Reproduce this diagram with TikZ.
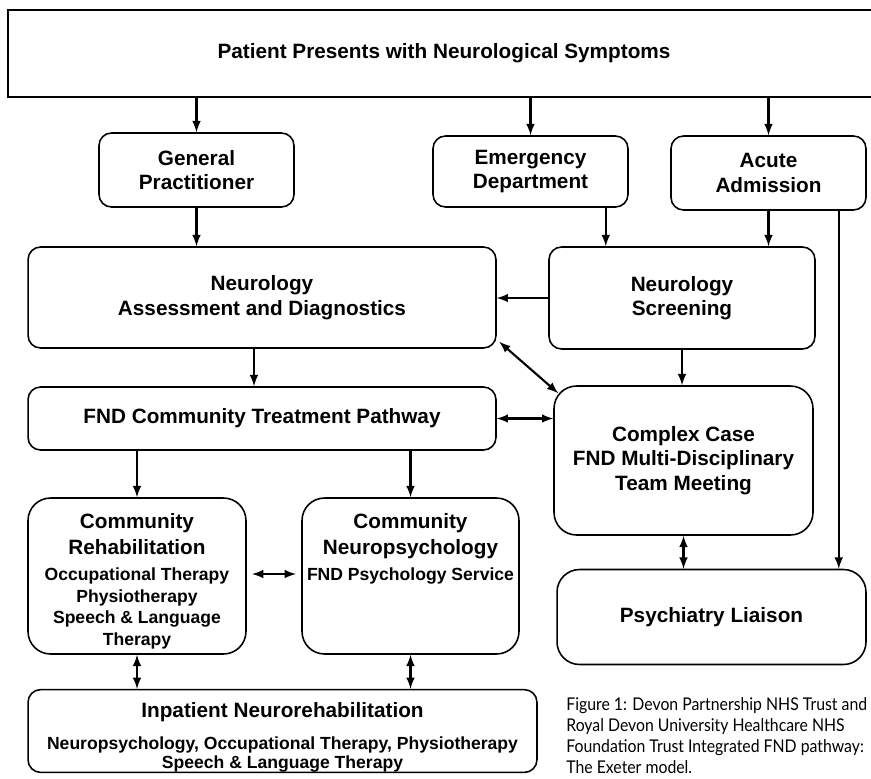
\documentclass[tikz,border=0pt]{standalone}
\usepackage{fontspec}
\setmainfont{Liberation Sans}
\newfontfamily\captionfont[FakeStretch=0.9]{Lato}
\newcommand{\subtext}{\fontsize{10}{12.2}\selectfont}

\begin{document}
\begin{tikzpicture}[>=latex, x=0.02cm, y=-0.02cm,
    box/.style={draw, line width=0.9pt, rounded corners=0.25cm, align=center,
        inner sep=2pt, font=\bfseries\fontsize{11.8}{14}\selectfont},
    bigbox/.style={box, rounded corners=0.45cm},
    link/.style={line width=1.2pt}]
    \useasboundingbox (0,0) rectangle (871,778);

    % 1. Hộp trên cùng
    \node[draw, line width=0.9pt, minimum width=17.44cm, minimum height=1.74cm,
        font=\bfseries\fontsize{11.8}{14}\selectfont] (patient) at (444,53.5)
        {Patient Presents with Neurological Symptoms};

    % 2. Các điểm tiếp nhận
    \node[box, minimum width=3.9cm, minimum height=1.48cm] (gp) at (196.5,170) {General\\Practitioner};
    \node[box, minimum width=3.9cm, minimum height=1.42cm] (ed) at (530.5,171.5) {Emergency\\Department};
    \node[box, minimum width=3.9cm, minimum height=1.48cm] (acute) at (768.5,173) {Acute\\Admission};

    % 3. Thần kinh
    \node[box, minimum width=9.36cm, minimum height=2.02cm] (assess) at (262,297.5) {Neurology\\Assessment and Diagnostics};
    \node[box, minimum width=5.32cm, minimum height=2.04cm] (screen) at (682,298) {Neurology\\Screening};

    % 4. Lộ trình cộng đồng và hội chẩn
    \node[box, minimum width=9.36cm, minimum height=1.26cm] (pathway) at (262,418.5) {FND Community Treatment Pathway};
    \node[bigbox, minimum width=5.18cm, minimum height=2.98cm] (mdt) at (683.5,460.5)
        {Complex Case\\FND Multi-Disciplinary\\Team Meeting};
    \node[bigbox, minimum width=6.18cm, minimum height=1.9cm] (liaison) at (711.5,617) {Psychiatry Liaison};

    % 5. Dịch vụ cộng đồng
    \node[bigbox, minimum width=4.36cm, minimum height=3.12cm] (rehab) at (137,576)
        {\parbox[c][2.52cm][t]{4.2cm}{\centering\baselineskip=14.8pt Community\\Rehabilitation\par\vspace{3pt}
        \subtext Occupational Therapy\\Physiotherapy\\Speech \& Language\\Therapy}};
    \node[bigbox, minimum width=4.34cm, minimum height=3.12cm] (neuropsy) at (410.5,576)
        {\parbox[c][2.52cm][t]{4.2cm}{\centering\baselineskip=14.8pt Community\\Neuropsychology\par\vspace{3pt}
        \subtext FND Psychology Service}};

    % 6. Nội trú
    \node[box, inner sep=0pt, minimum width=10.18cm, minimum height=1.58cm] (inpatient) at (282.5,731)
        {\parbox[c][1.58cm][b]{10cm}{\centering Inpatient Neurorehabilitation\par\vspace{7pt}
        \fontsize{10}{11}\selectfont Neuropsychology, Occupational Therapy, Physiotherapy\\Speech \& Language Therapy}};

    % 7. Chú thích
    \node[anchor=north west, align=left, inner sep=0pt,
        font=\captionfont\fontsize{10}{12}\selectfont] (caption) at (566,697)
        {Figure 1: Devon Partnership NHS Trust and\\Royal Devon University Healthcare NHS\\
        Foundation Trust Integrated FND pathway:\\The Exeter model.};

    % 8. Mũi tên
    \draw[->, link] (patient.south -| gp) -- (gp.north);
    \draw[->, link] (patient.south -| ed) -- (ed.north);
    \draw[->, link] (patient.south -| acute) -- (acute.north);
    \draw[->, link] (gp.south) -- (gp.south |- assess.north);
    \coordinate (edout) at ([xshift=-0.46cm]ed.south east);
    \draw[->, link] (edout) -- (edout |- screen.north);
    \draw[->, link] (acute.south) -- (acute.south |- screen.north);
    \coordinate (acuteout) at ([xshift=-0.56cm]acute.south east);
    \draw[->, link] (acuteout) -- (acuteout |- liaison.north);
    \draw[->, link] (screen.west) -- (screen.west -| assess.east);
    \draw[<->, link] ([xshift=0.05cm, yshift=0.14cm]assess.south east) -- ([xshift=0.1cm, yshift=-0.16cm]mdt.north west);
    \draw[->, link] ([xshift=-0.16cm]assess.south) -- ([xshift=-0.16cm]assess.south |- pathway.north);
    \draw[<->, link] (pathway.east) -- (pathway.east -| mdt.west);
    \draw[->, link] (screen.south) -- (screen.south |- mdt.north);
    \draw[->, link] (rehab.north |- pathway.south) -- (rehab.north);
    \draw[->, link] (neuropsy.north |- pathway.south) -- (neuropsy.north);
    \draw[<->, link, shorten <=3pt, shorten >=3pt] ([yshift=0.04cm]rehab.east) -- ([yshift=0.04cm]neuropsy.west);
    \draw[<->, link] (rehab.south) -- (rehab.south |- inpatient.north);
    \draw[<->, link] (neuropsy.south) -- (neuropsy.south |- inpatient.north);
    \draw[<->, link] (mdt.south) -- (mdt.south |- liaison.north);
\end{tikzpicture}
\end{document}
